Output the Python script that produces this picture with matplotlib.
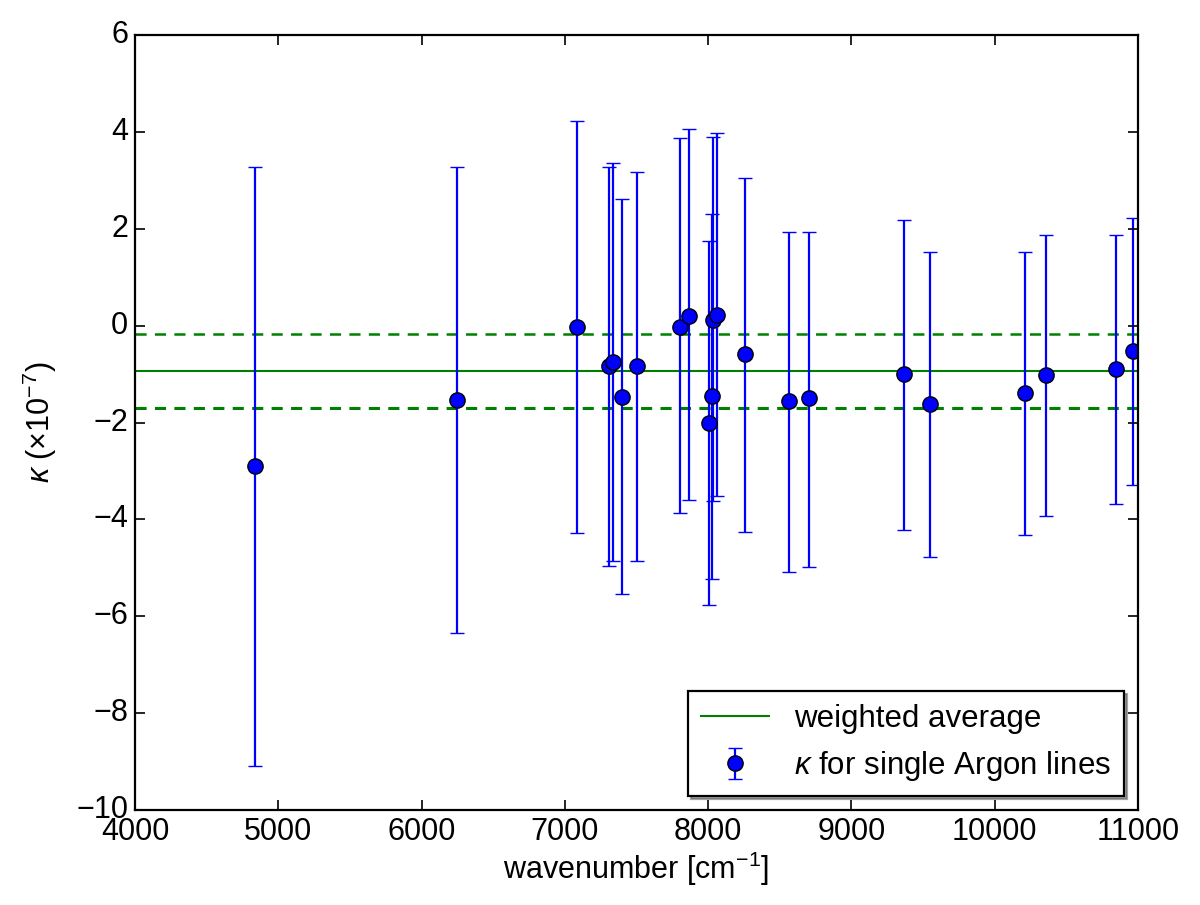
import matplotlib
matplotlib.use("Agg")
import matplotlib.pyplot as plt
import numpy as np

# data
wavenumber = [4837, 6247, 7085, 7308, 7336, 7399, 7503, 7803, 7866,
              8008, 8025, 8035, 8063, 8257, 8564, 8704, 9367, 9548,
              10211, 10358, 10846, 10967]
kappa = [-2.90, -1.54, -0.03, -0.83, -0.74, -1.47, -0.84, -0.02, 0.21,
         -2.00, -1.45, 0.12, 0.22, -0.59, -1.56, -1.50, -1.00, -1.62,
         -1.39, -1.02, -0.89, -0.52]
err_upper = [3.27, 3.27, 4.24, 3.29, 3.37, 2.61, 3.18, 3.87, 4.06,
             1.76, 2.30, 3.89, 3.98, 3.06, 1.93, 1.93, 2.18, 1.52,
             1.53, 1.87, 1.87, 2.22]
err_lower = [-9.10, -6.35, -4.27, -4.96, -4.85, -5.53, -4.85, -3.86, -3.60,
             -5.76, -5.22, -3.61, -3.51, -4.25, -5.08, -4.98, -4.22, -4.77,
             -4.33, -3.92, -3.68, -3.28]
avg = -0.93
avg_err = 0.77

plt.style.use('classic')
plt.rcParams['font.family'] = ['Liberation Sans', 'DejaVu Sans']
plt.rcParams['mathtext.fontset'] = 'custom'
plt.rcParams['mathtext.rm'] = 'Liberation Sans'
plt.rcParams['mathtext.it'] = 'Liberation Sans:italic'
FS = 22
plt.rcParams['font.size'] = FS

k = np.array(kappa)
yerr = np.vstack([k - np.array(err_lower), np.array(err_upper) - k])

fig = plt.figure(figsize=(12, 9.05), dpi=100)
ax = fig.add_axes([0.1125, 0.105, 0.8358, 0.856])
for s in ax.spines.values():
    s.set_linewidth(1.6)

ax.axhline(avg, color='#008000', lw=1.5, label='weighted average')
ax.axhline(avg + avg_err, color='#008000', lw=1.8, ls='--', dashes=(8, 6))
ax.axhline(avg - avg_err, color='#008000', lw=2.2, ls='--', dashes=(8, 6))

ax.errorbar(wavenumber, kappa, yerr=yerr, fmt='o', color='#0000ff',
            mfc='#0000ff', mec='black', mew=1.0, ms=11, elinewidth=1.6,
            capsize=5, capthick=1.6, label=r'$\kappa$ for single Argon lines')

ax.set_xlim(4000, 11000)
ax.set_ylim(-10, 6)
ax.set_xticks(np.arange(4000, 11001, 1000))
ax.set_yticks(np.arange(-10, 7, 2))
ax.tick_params(labelsize=FS, direction='in', length=7, width=1.2,
               top=True, right=True, pad=5)
ax.set_xlabel(r'wavenumber [cm$^{-1}$]', fontsize=FS, labelpad=2)
ax.set_ylabel(r'$\kappa$ $(\times10^{-7})$', fontsize=FS, labelpad=12)

leg = ax.legend(loc='lower right', shadow=True, numpoints=1, fontsize=22.5,
                borderaxespad=0.45, handlelength=2.2)
leg.get_frame().set_linewidth(1.6)

fig.savefig('out.png', dpi=100)
